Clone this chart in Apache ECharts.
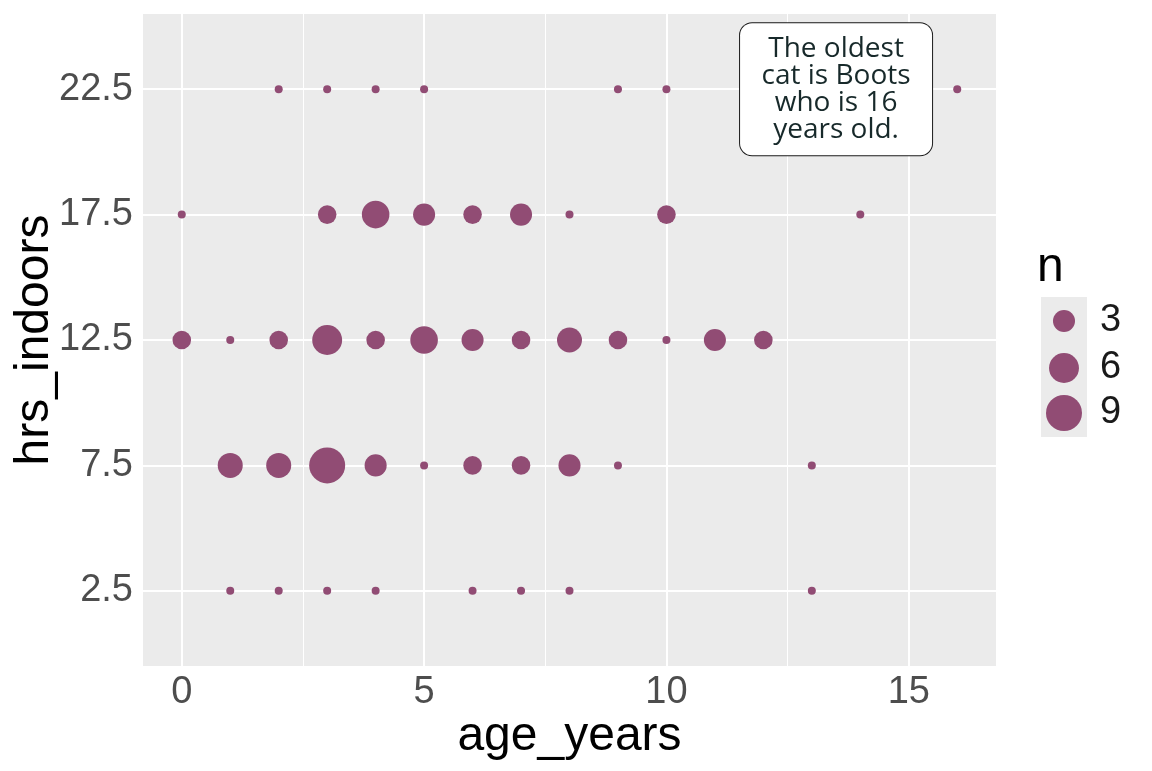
<!DOCTYPE html>
<html>
<head>
<meta charset="utf-8">
<script src="https://cdn.jsdelivr.net/npm/echarts@6/dist/echarts.min.js"></script>
<style>
html,body{margin:0;padding:0;background:#fff;}
#chart{width:1152px;height:771px;}
</style>
</head>
<body>
<div id="chart"></div>
<script>
// ---- data ----
const ageYears = [2,3,4,5,9,10,16, 0,3,4,5,6,7,8,10,14, 0,1,2,3,4,5,6,7,8,9,10,11,12, 1,2,3,4,5,6,7,8,9,13, 1,2,3,4,6,7,8,13];
const hrsIndoors = [22.5,22.5,22.5,22.5,22.5,22.5,22.5,
  17.5,17.5,17.5,17.5,17.5,17.5,17.5,17.5,17.5,
  12.5,12.5,12.5,12.5,12.5,12.5,12.5,12.5,12.5,12.5,12.5,12.5,12.5,
  7.5,7.5,7.5,7.5,7.5,7.5,7.5,7.5,7.5,7.5,
  2.5,2.5,2.5,2.5,2.5,2.5,2.5,2.5];
const counts = [1,1,1,1,1,1,1,
  1,2,5,3,2,3,1,2,1,
  2,1,2,6,2,5,3,2,4,2,1,3,2,
  4,4,9,3,1,2,2,3,1,1,
  1,1,1,1,1,1,1,1];
const xTicks = [0,5,10,15];
const xMinor = [2.5,7.5,12.5];
const yTicks = [2.5,7.5,12.5,17.5,22.5];
const legendBreaks = [3,6,9];
const noteText = 'The oldest\ncat is Boots\nwho is 16\nyears old.';
const noteAt = [13.5, 22.5];

// ---- style ----
const PURPLE = '#914C74';
function sizeFor(n){ return n === 1 ? 8 : 3 + 11*Math.sqrt(n); }

const points = ageYears.map((a,i)=>[a, hrsIndoors[i], counts[i]]);

const chart = echarts.init(document.getElementById('chart'), null, {renderer:'canvas'});

const legendCenters = [321, 368, 413];
const legends = legendBreaks.map((b,i)=>{
  const s = sizeFor(b);
  return {
    data:[String(b)], orient:'vertical', icon:'circle',
    itemWidth:s, itemHeight:s,
    left: 1064 - s/2, top: legendCenters[i] - 19,
    selectedMode:false, padding:0,
    itemStyle:{opacity:1, color:PURPLE},
    textStyle:{fontSize:38, lineHeight:38, color:'#1a1a1a', fontFamily:'Liberation Sans', padding:[0,0,0,1100-(1064+s/2+5)]}
  };
});

const option = {
  animation:false,
  backgroundColor:'#ffffff',
  grid:{left:143, right:156, top:14, bottom:105, show:true, backgroundColor:'#EBEBEB', borderWidth:0, containLabel:false, outerBoundsMode:'none'},
  title:{text:'n', left:1037, top:244, padding:0, textStyle:{fontSize:48, fontWeight:'normal', color:'#000', fontFamily:'Liberation Sans'}},
  graphic:[{type:'rect', shape:{x:1041, y:297, width:46, height:140}, style:{fill:'#EBEBEB'}, z:-1}],
  legend: legends,
  xAxis:{
    type:'value', min:-0.8, max:16.8,
    name:'age_years', nameLocation:'middle', nameGap:47, nameMoveOverlap:false,
    nameTextStyle:{fontSize:48, color:'#000', fontFamily:'Liberation Sans'},
    axisLine:{show:false},
    axisTick:{show:true, customValues:xTicks, length:6, lineStyle:{color:'#333', width:2}},
    axisLabel:{customValues:xTicks, fontSize:38, color:'#4D4D4D', margin:8, fontFamily:'Liberation Sans'},
    splitLine:{show:false}
  },
  yAxis:{
    type:'value', min:-0.5, max:25.5,
    name:'hrs_indoors', nameLocation:'middle', nameGap:84, nameMoveOverlap:false,
    nameTextStyle:{fontSize:48, color:'#000', fontFamily:'Liberation Sans'},
    axisLine:{show:false},
    axisTick:{show:true, customValues:yTicks, length:6, lineStyle:{color:'#333', width:2}},
    axisLabel:{customValues:yTicks, fontSize:38, color:'#4D4D4D', margin:10, fontFamily:'Liberation Sans'},
    splitLine:{show:false}
  },
  series:[
    {
      type:'scatter', name:'grid', data:[], z:1, silent:true,
      markLine:{
        silent:true, symbol:'none', animation:false, label:{show:false}, z:1,
        data:[
          ...xMinor.map(v=>({xAxis:v, lineStyle:{color:'#fff', width:1, type:'solid'}})),
          ...xTicks.map(v=>({xAxis:v, lineStyle:{color:'#fff', width:2, type:'solid'}})),
          ...yTicks.map(v=>({yAxis:v, lineStyle:{color:'#fff', width:2, type:'solid'}}))
        ]
      }
    },
    {
      type:'scatter', name:'cats', z:3,
      data:points,
      symbol:'circle',
      symbolSize:(d)=>sizeFor(d[2]),
      itemStyle:{color:PURPLE, opacity:1}
    },
    ...legendBreaks.map(b=>({type:'scatter', name:String(b), data:[], itemStyle:{color:PURPLE, opacity:1}})),
    {
      type:'scatter', name:'note', z:6, silent:true,
      data:[noteAt], symbolSize:0,
      itemStyle:{opacity:1},
      label:{
        show:true, position:'inside', formatter:noteText,
        width:150, align:'center',
        fontSize:28, lineHeight:27, color:'#17292A', fontFamily:'Open Sans',
        backgroundColor:'#ffffff', borderColor:'#1a1a1a', borderWidth:1, borderRadius:12,
        padding:[12,21,12,21]
      }
    }
  ]
};
chart.setOption(option);
</script>
</body>
</html>
